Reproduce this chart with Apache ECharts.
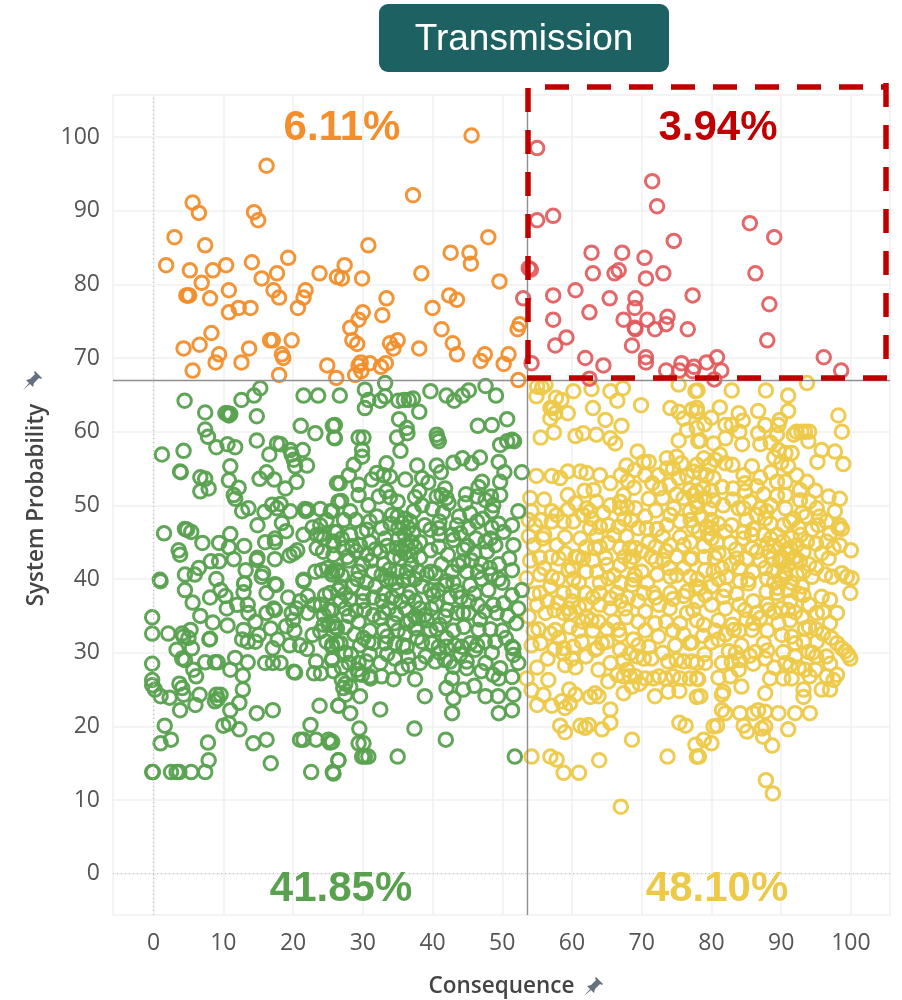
<!DOCTYPE html>
<html><head><meta charset="utf-8"><style>html,body{margin:0;padding:0;background:#fff}#c{width:902px;height:1000px}</style>
<script src="https://cdn.jsdelivr.net/npm/echarts@6/dist/echarts.min.js"></script></head><body><div id="c"></div>
<script>
const tickValues=[0,10,20,30,40,50,60,70,80,90,100];
const refConsequence=53.58, refProbability=67.04;
const shareLabels=['6.11%','3.94%','41.85%','48.10%'];
const orangePoints=[[45.6,100.2],[16.2,96.1],[37.2,92.1],[5.6,91.1],[6.5,89.7],[14.4,89.8],[15,88.7],[3,86.4],[7.4,85.3],[30.8,85.3],[48,86.4],[42.6,84.3],[45.3,84.3],[45.5,82.8],[1.8,82.6],[5.2,81.9],[8.5,81.9],[10.4,82.6],[14.1,83],[19.3,83.6],[17.7,81.5],[15.5,80.8],[23.8,81.5],[27.4,82.6],[26.3,81],[27,80.8],[29.9,80.8],[38.4,81.5],[49.6,80.4],[6.9,80.2],[10.8,79.2],[17.2,79.2],[18,78.2],[21.8,79.2],[21.5,78.2],[4.7,78.5],[5.1,78.5],[4.9,78.5],[8.1,78.1],[33.4,78.1],[42.4,78.5],[43.5,77.9],[12.2,76.8],[13.9,76.8],[10.8,76.2],[20.7,76.8],[40,76.8],[30,76.2],[32.8,75.8],[29.4,75.2],[28.2,74.1],[41.3,73.9],[52.5,74.6],[52.2,73.9],[8.3,73.4],[6.6,71.8],[4.3,71.3],[13.7,71.3],[9.4,70.5],[8.9,69.4],[12.6,69.4],[5.6,68.3],[16.7,72.4],[17.1,72.4],[19.8,72.4],[18.4,70.5],[18.6,70],[18,67.7],[28.5,72.4],[29.2,71.9],[35,72.4],[33.9,72],[34.4,71.3],[38.1,71.3],[42.9,72],[43.5,70.5],[47.5,70.5],[46.9,69.6],[50.9,70.5],[50.2,69.2],[24.9,69],[26.2,67.3],[29.7,69.4],[29.4,69],[29.8,68.2],[28.9,67.7],[31,69.3],[32.6,68.8],[33.3,69.3],[52.3,67]];
const redPoints=[[55,98.5],[71.5,94],[72.2,90.6],[57.3,89.3],[55,88.7],[85.5,88.3],[89,86.4],[74.6,85.9],[62.8,84.3],[67.2,84.3],[70.4,83.6],[53.8,82.2],[54.1,82],[63,81.5],[66.1,81.5],[66.7,81.9],[73.1,81.5],[70.6,80.8],[86.3,81.5],[60.5,79.2],[57.3,78.5],[65.4,78.1],[69.1,78.1],[69,76.8],[77.3,78.5],[88.3,77.3],[53,78.1],[62.5,76.2],[57.3,75.2],[67.4,75.2],[70.8,75.2],[73.7,75.6],[73.5,74.6],[69.1,73.9],[69,74.1],[71.9,73.9],[76.6,73.9],[59.2,72.8],[57.6,71.7],[68.6,71.7],[88,72.4],[61.9,70],[54.2,69.3],[64.5,69],[70.6,70.1],[70.6,69.4],[73.5,68.3],[75.7,69.3],[75.4,68.3],[77.5,68.8],[77.3,68.2],[79.3,69.4],[80.8,70.1],[81.4,68.3],[80.4,67.1],[62.5,67.2],[96.1,70.1],[98.6,68.3]];
const greenPoints=[[4.45,64.2],[7.4,62.6],[10.6,62.5],[10.3,62.5],[11,62.4],[10.8,62.2],[12.6,64.3],[14.4,64.9],[15.3,65.9],[14.8,62.1],[21.5,64.9],[23.6,64.9],[7.4,60.3],[7.8,59.3],[9,57.9],[10.6,58.3],[11.7,57.9],[14.8,58.8],[21.1,60.8],[23.2,59.8],[25.7,60.8],[25.9,59.2],[1.2,56.9],[4.3,57.4],[3.9,54.5],[3.8,54.6],[6.7,53.8],[7.4,53.6],[7.9,52.3],[6.7,51.9],[11,55.3],[10.8,53.4],[12.2,52.4],[11.5,51.4],[11.7,50.9],[12.7,49.2],[13.6,49.6],[14.9,47.3],[15.9,49.1],[17,50.1],[18.2,50.2],[17.7,49.6],[18.4,47.6],[19.6,49.2],[16.6,56.9],[17.7,58.4],[18.2,58.3],[19.6,57.5],[19.8,56.9],[20.1,56.2],[21.4,57.5],[20.3,55.3],[22,55.4],[16.2,54.5],[15.2,53.6],[17.3,53.5],[18.9,52.3],[20.5,53.2],[26.3,53],[21.7,49.5],[22.1,49.4],[21.8,49.2],[23.9,49.5],[25.4,49.2],[26.5,50.5],[1.5,46.2],[4.5,46.8],[4.8,46.7],[5.4,46.4],[3.6,43.9],[3.8,43.3],[7,44.9],[9.4,44.9],[11,46.1],[10.8,44.3],[11.5,42.7],[8.2,42.4],[9.4,42.4],[17.4,45.5],[17.4,45],[17.4,42.7],[20.6,43.9],[19.5,43.2],[20.1,43.5],[14.9,42.9],[14.8,42.6],[13.2,41.2],[0.9,39.9],[4.5,40.6],[5.9,40.6],[15.7,40.8],[15.5,40.3],[13,39.4],[17.4,39.3],[21.5,39.9],[23.2,41],[23.9,47.3],[23.9,46],[23.4,46],[24.4,45.5],[23.4,44.2],[24.3,43.7],[25.8,45.1],[26.3,46.4],[25.8,43.3],[24.9,41.5],[25.6,41],[26.3,41.2],[24.1,41.2],
[26.7,64.9],[30.3,65.7],[33.2,66.6],[30.3,63.2],[30.8,64.3],[32.5,64.2],[33.2,64.8],[35.1,64.2],[35.9,64.3],[36.6,64.3],[37.2,64.5],[38.1,62.7],[39.7,65.5],[42,64.9],[43.1,64.2],[44.3,64.9],[45.2,65.6],[47.6,66.2],[49.1,64.9],[50.7,61.7],[46.5,60.8],[48.5,60.9],[26,60.9],[26,59.1],[35.2,61.7],[36.3,60.5],[36.4,59.8],[34.9,59.2],[35.4,57.4],[29.4,59.2],[30.1,59.2],[29.9,57.5],[29.9,56.6],[28.7,55.5],[28,54.1],[26.7,53],[29.4,52.8],[29.4,51.4],[26.9,50.6],[28.2,49.2],[30.8,50],[25.6,49.2],[40.6,59.6],[40.7,59.1],[40.9,58.7],[49.7,58.2],[50.7,58.7],[51.4,58.9],[51.7,58.7],[49.5,55.9],[50.3,54.5],[52.8,54.5],[49.7,53.2],[46.8,56.5],[45.6,55.7],[44.3,56.4],[43,55.8],[37.8,55.4],[40.6,55.4],[41.2,54.5],[36.1,53.5],[38.5,53.7],[39.4,53.1],[33.4,55.7],[33.9,53.9],[33,54.1],[32,54.4],[31.3,53.5],[33.4,51.9],[33.9,51.1],[32.3,51.2],[38.1,51.9],[37.5,51.1],[37.3,49.2],[41.8,52.3],[41.3,51.4],[42,51],[42.3,50.3],[40.6,51.2],[47.1,53.2],[46.6,52.5],[46.4,51.2],[44.8,51.5],[44.7,50.3],[45.4,48.9],[49.7,51.4],[48.4,51.2],[48.7,50],[48.5,49.2],[47.6,50.7],[52.3,49.2],[34.2,48.7],[36.1,48.2],[36.8,47.8],[35.6,47.6],[35.1,46.9],[38.9,47.3],[39.7,46.7],[40.9,46.9],[43.5,47.3],[42.8,46],[43,45.3],[45.2,46.9],[46.4,47.8],[51.4,47.3],[50.2,46.4],[47.6,45.1],[48.3,45.5],[47.8,43.7],[49,44.6],[51.6,44.6],[51,42.8],[51.4,41.2],[42.2,43.3],[38.2,42.9],[39.7,43.9],[40.9,44.4],[44.4,42.4],[45.6,42.5],[43.7,41.9],[44.9,41],[48.4,40.6],[39.7,41],[39.2,40.6],[40.4,40.8],[42,39.7],[26,46.4],[27,45.5],[25.8,44.6],[27.2,44.2],[28.2,46],[29.9,46.4],[30.6,46.7],[29.6,44.6],[30.6,43.3],[32.7,46.9],[33.2,45.5],[32.5,43.7],[35.1,45.5],[34.9,44.2],[36.1,44.6],[35.4,42.8],[29.4,41],[31.5,41],[32.7,40.6],[33.4,39.9],[36.3,41],[36.6,40.1],[26.3,41],[25.6,40.6],
[1,39.7],[4.5,38.5],[5.6,36.8],[8.1,37.5],[9.6,38.5],[10.3,37.7],[12.9,38.2],[13,39.4],[16.2,38.1],[17.6,39.2],[19.3,37.5],[22.1,37.7],[21.5,39.7],[-0.2,34.8],[-0.2,32.6],[2.1,32.6],[6.7,35],[8.5,34.1],[10.6,33.7],[4.1,32.6],[5.3,33.1],[4.3,32.2],[5,32],[5.5,30.6],[3.3,30.4],[4.1,29.2],[4.5,29],[8,31.8],[8.1,31.9],[12.9,33.1],[12.7,31.8],[13.5,31.5],[14.6,31.5],[13.5,36.5],[13.6,35.4],[14.6,34.2],[16.2,35.4],[17.2,36],[17.4,35.8],[15.1,32.4],[16.8,33.3],[17.8,31.8],[17.1,30.6],[19.8,35.4],[20,34.4],[19,33.6],[20.2,33],[22.1,35.4],[22.8,32.4],[23.9,32.9],[24.4,35.1],[25.6,35.8],[24.4,33.8],[25.1,33.8],[25.8,34],[26.3,33.3],[25.6,31.1],[26.3,31.3],[24.6,37.8],[25.3,38.1],[26.5,38.5],[25.1,35.8],[-0.2,28.5],[7.4,28.7],[8.8,28.7],[9.2,28.7],[11.7,29.3],[13.5,28.7],[11,27.7],[5.7,27.7],[6.1,26.8],[12.8,26.9],[16,28.6],[17.1,28.6],[18.2,28.6],[20.1,27.4],[20.3,27.3],[23,27.2],[24,27.2],[23.3,28.8],[25.6,29.2],[-0.2,26.3],[-0.2,25.6],[0.2,25],[1,24.1],[2.3,23.9],[3.7,25.8],[4.1,25.2],[4.3,24.3],[3.8,22.2],[6,22.9],[6.6,24.3],[9,24.3],[9.6,24.3],[9.2,23.7],[8.8,23.4],[12.8,25],[12.3,23.2],[11,22.2],[14.8,21.8],[17.1,22.2],[23.8,22.8],[26.5,22.8],[1.6,20.1],[1,17.7],[2.5,18.2],[10,20.1],[10.8,20.4],[12.3,19.6],[7.8,17.8],[14.3,17.7],[16.2,18.2],[22.5,20.2],[21,18.2],[21.5,18.2],[23.3,18.2],[25.1,18.2],[25.3,17.8],[7.9,15.4],[16.8,15],[26.5,15.4],[-0.2,13.8],[-0.1,13.8],[2.5,13.8],[3.3,13.8],[3.7,13.8],[5.4,13.8],[7.4,13.8],[22.6,13.8],[25.7,13.8],
[36.8,38.2],[33.7,36],[36.1,36],[38.2,36],[38.9,35.1],[37.5,34.9],[29.4,34.2],[32.5,34.7],[31.5,35.1],[28.2,37.2],[30.1,38.1],[26.8,39],[25.6,35.8],[48.3,33.2],[46.6,33.1],[48,38.5],[51.4,37.8],[52.8,38.5],[52.3,36],[50.2,36.7],[48.7,36.5],[47.5,35.6],[49.2,35.4],[42.1,35.8],[41.8,34.9],[43.5,35.4],[44.4,35.4],[45.2,35.4],[39.7,38.5],[41.8,39.2],[40.1,37.8],[45.4,39.2],[36.3,34],[36.1,32.6],[36.8,34.4],[38,34.7],[39.7,33.1],[40.6,33.2],[39.2,34.4],[26,33.5],[26.8,31.3],[25.6,30.8],[27.5,33.5],[29.6,31],[30.8,31.5],[30.1,32],[31.5,31.3],[33.2,31.3],[34.6,31.3],[36.3,30.8],[39.9,31.3],[40.9,30.8],[42,30.8],[44.2,30.8],[45.4,31.3],[46.4,31],[46.1,30.4],[51.6,30.6],[51.6,29.7],[51.4,30.8],[25.6,29],[28,28.6],[29.4,28.6],[29.2,27.7],[29.9,27],[31.1,26.5],[32.5,28.6],[34.6,29.2],[35.6,27.9],[36.6,28.3],[38.2,28.6],[40.4,28.8],[41.8,29],[42.5,28.8],[43,28.1],[44.9,27.9],[44.9,28.8],[47.6,28.6],[48.7,27],[49.7,27.9],[49.5,26.5],[51.4,26.7],[52.3,28.6],[32.7,26.8],[34.4,26.4],[37.5,26.4],[42.8,26.5],[42,25.2],[44.4,25],[43,23.8],[27,26.3],[27.5,25.8],[27.2,25.2],[28.2,25.4],[29.4,27.1],[27.5,24.3],[29.6,24.1],[26.5,22.8],[28.2,21.8],[38.9,24.1],[32.5,22.3],[42.8,21.8],[47.6,24.1],[49.4,24.1],[51.6,24.3],[51.4,22.2],[49.5,21.8],[29.5,19.7],[29.4,17.7],[30.1,17.7],[29.9,15.9],[30.3,15.9],[30.8,15.9],[25.6,17.9],[26.5,15.4],[25.8,13.6],[35,15.9],[37.4,19.7],[41.9,18.2],[51.8,15.9],
[34,47.5],[35,48.5],[36,46],[37,45],[36,43.5],[37,42],[35,41],[34,40],[33,42],[38,41],[31,45],[30,42],[28,42.5],[27,40.5],[28.5,39],[30,37],[31.5,37.5],[33,38],[35,38.5],[35.5,37],[37.5,37],[38.5,39],[40.5,36.5],[44,37.5],[43,39.5],[46,38],[47,40],[49.5,42],[50,39.5],[46,43.5],[44.5,44],[41,47.8],[29,35.7],[27.5,36],[34.5,34],[33,33],[31,33],[28.8,32.5],[43,33],[44.5,33.5],[42,32],[47.5,31.5],[50,33],[52,34],[50.5,32],[48.5,30],[39,29.5],[33.5,29.8],[31,29.8],[35,33],
[33.5,44.5],[34.5,43],[36.5,47],[37.2,46.2],[35.6,44],[36.8,43.2],[33.8,41.3],[34.7,39.5],[35.8,39.8],[37.5,40],[38.2,45],[37.5,44.3],[31.8,44],[31.2,42.5],[29,43.8],[28.5,44.5],[27.8,43],[29.2,40],[30.5,39.5],[31.8,39],[32.8,37],[34.2,37.5],[28,35],[26.8,37],[27.5,38],[30.2,35.8],[33,35.5],[34.8,35.2],[36.5,37.5],[39.8,36],[40.8,38.5],[42.5,37.5],[43.5,38.3],[45.2,37],[46.5,36.5],[48.2,41.5],[47,42],[49.5,40],[46.5,41],[42.8,41],[41.3,42],[41,46],[44,46.2],[45,44.5],[46.2,45.5],[49.5,47.5],[48.5,47],[47.2,48.2],[43.8,48.5],[41.5,49],[40,49.5],[38.5,50],[35,50.5],[32,48.5],[31,47.8],[29,48],[27.3,48],[24.8,48],[22.8,47],[21.5,46],[19,46.5],[16,45],[13,44.5],[6.5,41.5],[9,40],[12,36.5],[10.5,36],[23,36.5],[21,37],[20.5,36],[24,36.5],[24.8,31.5],[22,30.5],[21,31],[19.5,31],[33.5,32.2],[35.8,31],[37.8,32],[37.5,33.3],[38.5,31.5],[41,33.8],[43.2,31],[49,31.5],[50.8,35],[46.8,34.5],[44,29.8],[41,30],[36.5,29.5],[27.5,30],[28.3,29.8],[27,28],[30.5,28.8],[31,26.8],[25.8,27.5],[46,25.5],[47,27.5]];
const yellowPoints=[[56.2,66.4],[55,66.1],[55.7,66],[54.9,64.8],[60.2,65.5],[62.8,65.8],[65.5,65.5],[67.3,65.9],[66.5,64.2],[69.9,63.6],[75.3,66.4],[77.7,65.5],[57.7,64.6],[58.5,64.3],[56.9,63.2],[57.3,63.2],[56.9,61.8],[57.6,62.5],[59.4,62.5],[63,63.2],[64.8,61.6],[67.1,60.8],[74.1,63.2],[75.3,62.7],[76,61.8],[77.2,63],[77.9,62.7],[55.5,59.2],[57.4,59.9],[60.5,59.4],[61.6,59.8],[63.5,59.6],[65.5,59.1],[66.2,58.4],[75.3,58.8],[77.9,60.5],[78.1,58.7],[69.4,57.3],[71,55.9],[70.3,55.9],[67.8,55.4],[67,54.1],[70.5,54.1],[73.6,56.4],[75,56.6],[73.6,55],[75.7,55.7],[75.3,53.7],[72.4,54.1],[72.6,52.3],[77.9,55.5],[77.4,54.6],[76.9,52.1],[77.9,51.9],[54.9,54],[57.1,54],[58.3,53.7],[59.4,54.6],[61.2,54.6],[62.1,54.4],[61.8,52],[63.1,52.1],[64,54.1],[65.5,53],[68.9,52.4],[71,50.9],[59.4,51.4],[59.4,49.4],[67.4,51.4],[66.9,50.5],[65.5,50],[66.9,49.6],[67.9,49.8],[69.1,49.6],[54.2,49.2],[57.1,49.2],[53.8,48],[54.7,47.3],[57.1,47.8],[57.8,48.7],[58.8,47.8],[60.2,47.8],[62.1,49.6],[62.6,49.2],[61.6,48.7],[62.8,48.2],[64,47.1],[65.2,47.3],[62.6,46.9],[66.7,47.1],[69.5,46.9],[70.7,46.9],[72.2,46.8],[74.6,49.6],[74.1,48.7],[75.5,47.8],[73.6,47.3],[77.4,47.1],[76.9,49.2],[77.9,50.5],[61.2,45.5],[54.5,44.6],[57.8,44.6],[64,44.4],[65.2,44.9],[63.3,44.2],[66.9,44.2],[68.3,44.2],[69.1,44.2],[71.4,43],[74.1,44.6],[76,44.6],[76.9,42.8],[73.1,42.6],[55.4,42.9],[58.1,42.8],[60.5,43],[61.6,42.8],[60.9,43],[59.5,41.2],[63.6,41],[65,41.9],[66.9,41.9],[68.3,42.4],[68.8,43],[55.4,40.6],[57.1,40.3],[60.2,40],[65.2,40.1],[68.8,39.9],[72.2,40.6],[74.1,40.3],[76.9,40.3],[53.5,40.1],
[78,65.6],[82.9,65.6],[87.8,65.6],[91,64.9],[93.7,66.6],[81.2,63.3],[80,61.9],[77.9,63.2],[83.9,62.5],[82.9,60.9],[82,60.9],[86.7,62.8],[91,62.8],[98.2,62.2],[98.7,60],[89.8,61.6],[89.6,60.9],[87.7,60.9],[86.7,59.8],[89.4,59.6],[92.2,60],[92.9,60],[93.4,60],[94,60],[91.8,59.6],[93.9,58.7],[78.4,58.8],[80.3,58.4],[82,59.1],[84,60],[84.4,58.3],[87,58.3],[95.8,57.5],[97.7,57.3],[95.2,55.9],[98.9,55.6],[89.6,57.5],[90.6,57.1],[91.5,57.1],[91,55.3],[78.9,56.4],[79.8,55.5],[81.2,56.9],[82,55.7],[78.4,54.4],[79.3,54.1],[80.3,53.7],[84.6,54.1],[87,53.8],[86.5,52.6],[84.8,53],[84.8,51.9],[83.1,52.3],[92.2,54.1],[89.4,53.2],[90.6,53.2],[93.7,53.2],[94.9,52],[96.8,51.2],[98.4,50.9],[89.4,51.3],[90.6,51.4],[92.7,52.1],[92.7,50.7],[95.1,49.6],[97.7,49.2],[77.4,51.4],[78.8,52.3],[80.3,50.7],[81.7,50],[83.9,49.6],[84.6,49.6],[90.6,49.6],[87,49.6],[86.5,48.7],[87.7,48.2],[87.9,49.2],[98.4,47.3],[98.7,46.8],[98.2,46.9],[79.3,47.1],[80,46.9],[82.9,47.3],[84.6,46.4],[91.3,47.8],[90.3,47.3],[91.8,48.2],[89.4,46],[94.4,46.7],[95.3,47.3],[78.9,44.5],[80.8,44.9],[82.7,44.9],[84.6,45.5],[85.8,44.2],[86.5,43.7],[88.2,43.7],[96.5,45.1],[97.5,44.2],[95.8,43.5],[98.4,44.6],[100,43.9],[96.8,42.8],[80.5,42.9],[83.6,42.8],[77.2,42.8],[90.3,45.1],[91.3,44.2],[92.2,44.6],[89.8,42.4],[91,41.9],[91.8,42.8],[93.2,43.7],[93.7,45.1],[92.7,42.4],[87.7,41.5],[88.9,41],[90.6,40.6],[92.2,40.6],[93.2,41],[79.1,41.2],[80.3,41],[82.2,40.3],[85.3,39.9],[84.1,39.7],[94.4,40.3],[96.3,40.6],[97.3,40.3],[98.7,40.8],[99.4,40.3],[100.1,40.1],
[55.4,38.1],[56.9,39],[58.8,38.1],[60.2,38.3],[61.9,38.1],[64,38.1],[66.4,38.1],[68.6,39.2],[70.3,38.1],[71.7,38.1],[74.1,38.1],[76.5,38.3],[53.8,34.9],[56.2,35.4],[55.2,33.2],[54.2,31],[56.5,29.2],[58.8,35.4],[59.7,35.4],[62.1,34.9],[62.8,34.4],[63.8,34.2],[59.7,33.5],[61.6,34.2],[65.5,36],[67.6,36],[66,34.2],[66.7,33.1],[66.9,32.4],[68.8,31.8],[70.5,35.6],[71.9,34],[72.4,32.2],[74.8,31],[76.9,31.3],[75.5,34],[76.5,35.4],[77.9,34.4],[56.9,32.6],[57.6,33.1],[58.1,32],[58.8,30.6],[58.8,29.9],[60,29.2],[60.5,28],[59,28.3],[61.4,31.5],[63.6,30.6],[64.3,31.3],[65,31.5],[63.3,30.4],[63.8,27.7],[66.9,30.4],[68.3,29.9],[67.4,29],[65.5,28.6],[69.3,29.5],[70.3,29.2],[71.4,29.2],[73.8,28.8],[76,28.8],[77.2,28.8],[77.9,28.6],[67.4,26.8],[68.3,26.8],[69.1,26.8],[67.9,27.7],[70.5,26.5],[71.7,26.5],[73.4,26.5],[75.5,26.5],[76.9,26.5],[77.9,26.5],[65.2,26.1],[67.4,24.5],[68.6,25.4],[73.8,24.7],[75.4,24.8],[71.9,24.1],[77.9,24],[53.5,26.5],[54.2,24.9],[56.6,26.3],[55.9,24.3],[55,22.9],[57.1,22.8],[59.6,25],[60.5,24.3],[58.5,23.4],[59.7,23.1],[59,22.5],[62.6,24],[63.3,24.5],[63.8,24.1],[65.5,22.3],[65.5,20.5],[64.3,19.6],[58.3,20.1],[59,19.2],[61.2,20.1],[61.9,19.8],[62.4,20.2],[68.6,18.2],[75.4,20.5],[76.3,20.1],[77.7,17.5],[77.9,15.9],[54.2,15.9],[56.9,15.9],[57.8,15.5],[63.9,15.4],[73.7,15.9],[58.8,13.7],[61,13.7],[67,9.1],
[79.1,37.8],[81.7,37.6],[83.6,38],[85.3,39.4],[78.4,38.8],[87.9,38.3],[89.4,38.1],[91.3,37],[93.2,37.8],[95.8,37.6],[97,37.2],[99.9,38.1],[98,35.4],[95.1,35.4],[77.4,35.8],[78.9,33.8],[81,34.4],[83.2,33.1],[84.8,35.8],[86.5,35.4],[88.2,35.8],[80,31.4],[77.2,31.4],[84.3,31],[85.8,33.1],[87.5,31.3],[86.3,30.1],[87.7,29.2],[89.6,34],[91.3,34.4],[93.4,33.3],[90.1,32.4],[91.5,32.2],[96,32.6],[95.1,31.5],[96.5,29.5],[93.2,31.5],[92,31.3],[90.3,30.1],[93.9,30.1],[98,31.3],[98.7,30.6],[99.2,30.2],[99.6,29.7],[99.9,29.2],[90.6,28.6],[91.3,28.3],[79.1,28.6],[81.5,28.6],[82.9,28.8],[83.9,27.7],[82.7,26.8],[84.3,25.4],[88.4,26.5],[90.3,26.5],[91.5,26.5],[93.4,27.7],[94.1,26.8],[94.9,27.7],[96.5,26.8],[98,27],[97.5,26.3],[78.1,26.4],[78.4,24.1],[87.7,24.5],[93.2,25],[93.2,24],[95.8,25],[97,25],[81.5,24.3],[81.7,24.7],[81.5,22.2],[82,21.8],[84.1,21.8],[86,21.8],[86.7,22.2],[87.7,22],[89.6,21.8],[92,21.8],[94.1,21.8],[80.8,20.1],[80.3,20],[84.6,20.1],[85.1,19.3],[87.2,19.7],[87.7,20],[91,19.6],[87.4,18.6],[88.7,17.4],[78.9,18.2],[80,17.7],[78.2,15.9],[87.8,12.7],[88.8,10.9],
[90,43],[91,43.5],[92,43],[90.5,41],[91.5,39.5],[93,39],[89,39.5],[88,40],[87,42.5],[89,44.5],[94,42],[95,41.5],[80,45.5],[79,43],[81,40],[82,38.5],[80,39],[78,40],[76,41.5],[75,43],[74,41.5],[72,42.5],[70,41],[69,40.5],[67,39.5],[66,40.5],[64,39.5],[63,42.5],[62,41],[61,39.5],[60,41.5],[58,40],[56,41.5],[54,42.5],[54.5,38],[56.5,37],[58,36.8],[60,37],[62,36.5],[64,36.5],[68,37.5],[69.5,37],[72.5,36.5],[74,36],[78,37],[80,36.5],[82,36],[84,36.5],[86,37],[88,36.5],[90,36],[92,35.5],[94,36.5],[96,35.5],[83,33.8],[86,34],[88,33],[94,33.5],[97,34],[81,31.8],[82.5,30.2],[79,29.8],[73,30],[71,30.8],[69.5,31],[62,29.5],[84,29],[86,28.5],[89,28],[92,29.5],[95,29.5],[97,28.5],[79,51],[80,48],[78.5,48.5],[81,47.5],[83,50.8],[85,48],[88.5,47.5],[92.5,47],[93.5,48.5],[95,44.8],[77,45],[75.5,45.7],[73,45.8],[71,45],[67.8,45.8],[66,46],[63.5,45.9],[59,45.7],[56,46],[53.8,45.8],[54,51],
[90.2,42.7],[90.8,44],[91.5,45.6],[92.8,46],[90,40],[89.5,38.8],[91,38.5],[92.5,38],[88.7,42.8],[88,44.8],[86,41],[85,42.8],[84,41.5],[82.8,42],[81.5,41.5],[81,43.5],[79.5,46],[78.2,46.5],[77,48],[79.8,49.5],[78,49.8],[76,51],[75,51.5],[74,52.8],[73,51],[72,49.3],[70.5,48.5],[68.5,48],[67.5,48.2],[64.5,49],[63.5,50.5],[60.5,50.3],[56,50.8],[55.5,48],[55.8,45.5],[57,43],[59,43.5],[62,44.3],[64.8,42.9],[67.5,43],[70,43.8],[72,44.4],[73.5,43.8],[75,40.5],[77.8,39],[76,37.7],[74.5,37.3],[72,37.5],[70.8,39.5],[67,37],[65.5,37.4],[63,37.5],[61,36.2],[59.5,36],[57.5,35.8],[55,36.5],[54.5,33],[61,33],[63,33],[65,33.2],[67.8,34.8],[69.5,34.2],[70.5,33],[73.5,34.2],[74.5,33],[76,32.5],[78.8,32.3],[80.5,33],[82,32.5],[84,33],[85,34.5],[87,34.7],[89,35.5],[91,35.8],[93,34.8],[95,33.2],[97.2,32],[94.5,30],[92.5,28],[88,30.3],[85.5,29.6],[81,26.6],[83.5,30],[75,29],[74.5,26.8],[72.5,26.8],[69.7,25.8],[66.5,27],[60.2,30.8],[57.5,30.5],[55.5,31.3],[55,28],[85.5,50.5],[87.5,51.5],[88.5,50],[93,49],[94,50.5],[95.5,48.5],[96.5,47.8],[97,46.2],[86,46.8],[87.5,46],[88.5,45.5],[82,46.5],[83.5,44],[85.8,46],[76.5,54],[74.5,55],[71.5,53],[69,54.8],[68,53.3],[88.5,54.5],[90,55.8],[89,56.5],[83,55.5],[85.8,55.3],[80.5,56.2],[80,52],[81.5,52.5],[76.5,60.2],[79,61],[84.5,61.5],[88.5,58.5]];
const gridBox={left:113,right:12,top:95,bottom:85,outerBoundsMode:'none',show:true,borderColor:'#f1f1f1',borderWidth:1.5,backgroundColor:'transparent'};
const ring=(c,o,name,pts,z)=>({name,type:'scatter',data:pts,z,symbol:'circle',symbolSize:13.5,silent:true,
  itemStyle:{color:'rgba(255,255,255,0)',borderColor:c,borderWidth:3,opacity:o}});
const pinShape=[[-9,9],[-3,2],[-6,-1],[-2,-2],[3,-7],[2,-9],[3,-10],[10,-3],[9,-2],[7,-3],[2,2],[1,6],[-2,3]];
const pin=(x,y)=>({type:'polygon',x,y,z:20,shape:{points:pinShape},style:{fill:'#66717f'}});
const pct=(text,x,y,fill)=>({type:'text',x,y,z:20,style:{text,x:0,y:0,align:'center',verticalAlign:'middle',fill,font:'bold 42px "Liberation Sans",Arial,sans-serif'}});
const dash=(x1,y1,x2,y2)=>({type:'line',z:19,shape:{x1,y1,x2,y2},style:{stroke:'#C00000',lineWidth:5.5,lineDash:[24,18],lineCap:'butt'}});
const chart=echarts.init(document.getElementById('c'),null,{renderer:'canvas'});
const axisCommon={type:'value',axisLine:{show:false},axisTick:{show:false,customValues:tickValues},
  splitLine:{show:true,lineStyle:{color:'#f1f1f1',width:1.5}},
  axisLabel:{color:'#555',fontSize:23,fontFamily:'"Open Sans",sans-serif',customValues:tickValues,margin:17,hideOverlap:false}};
const nameStyle={color:'#444',fontSize:22.5,fontWeight:600,fontFamily:'"Open Sans",sans-serif'};
chart.setOption({animation:false,backgroundColor:'#fff',grid:gridBox,
  xAxis:Object.assign({},axisCommon,{min:-5.82,max:105.6,name:'Consequence',nameLocation:'middle',nameGap:60,nameTextStyle:nameStyle}),
  yAxis:Object.assign({},axisCommon,{min:-5.6,max:105.7,name:'System Probability',nameLocation:'middle',nameGap:65,nameTextStyle:nameStyle,axisLabel:Object.assign({},axisCommon.axisLabel,{margin:13})}),
  series:[
   {type:'scatter',data:[],z:1,silent:true,markLine:{silent:true,symbol:'none',label:{show:false},animation:false,
     data:[{xAxis:0,lineStyle:{color:'#bdbdbd',type:[1,3],width:1.2}},{yAxis:0,lineStyle:{color:'#bdbdbd',type:[1,3],width:1.2}}]}},
   ring('#EDC948',.95,'yellow',yellowPoints,3),
   ring('#59A14F',.95,'green',greenPoints,3),
   ring('#F28E2B',.95,'orange',orangePoints,3),
   ring('#E15759',.9,'red',redPoints,4),
   {type:'scatter',data:[],z:5,silent:true,markLine:{silent:true,symbol:'none',label:{show:false},animation:false,z:5,
     lineStyle:{color:'#8f8f8f',type:'solid',width:1.4},data:[{xAxis:refConsequence},{yAxis:refProbability}]}}
  ],
  graphic:[
   {type:'rect',z:20,shape:{x:379,y:4,width:290,height:68,r:9},style:{fill:'#1D6162'}},
   {type:'text',z:21,x:524,y:40,style:{text:'Transmission',x:0,y:0,align:'center',verticalAlign:'middle',fill:'#fff',font:'37px "Liberation Sans",Arial,sans-serif'}},
   pct(shareLabels[0],342,128,'#F28E2B'),pct(shareLabels[1],718,128,'#C00000'),pct(shareLabels[2],341,889,'#59A14F'),pct(shareLabels[3],717,889,'#EDC948'),
   dash(528,88,528,378),dash(545,87,886,87),dash(886,83,886,360),dash(527,378,888,378),
   pin(32,381),pin(593,987)
  ]});
</script></body></html>
